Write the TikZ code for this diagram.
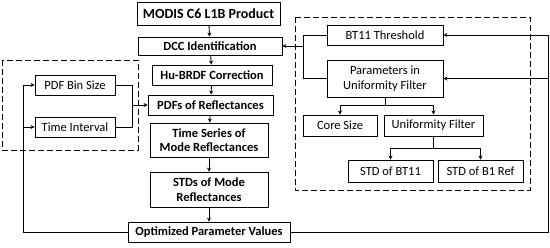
\documentclass[tikz,border=0pt]{standalone}
\usepackage{fontspec}
\setmainfont{Carlito}
\usetikzlibrary{arrows.meta,calc}
\begin{document}
\begin{tikzpicture}[x=1pt,y=-1pt,
  box/.style={draw,line width=0.9pt,inner sep=0pt,align=center,font=\fontsize{12.5}{14.5}\selectfont},
  bbox/.style={box,font=\fontsize{12.5}{14.5}\selectfont\bfseries},
  arr/.style={-{Stealth[length=4pt,width=4pt]},line width=0.9pt},
  ln/.style={line width=0.9pt},
  dbox/.style={draw,line width=0.9pt,dash pattern=on 6pt off 3pt}]
\useasboundingbox (0,0) rectangle (550,247);
% dashed groups
\draw[dbox] (2,60) rectangle (138,150);
\draw[dbox] (295,17) rectangle (530,190);
% main column
\node[bbox,minimum width=143pt,minimum height=23pt,font=\fontsize{14}{16}\selectfont\bfseries] (modis) at (208.5,13.5) {MODIS C6 L1B Product};
\node[bbox,minimum width=144pt,minimum height=18pt] (dcc) at (210,46) {DCC Identification};
\node[bbox,minimum width=120pt,minimum height=20pt] (hu) at (212,75) {Hu-BRDF Correction};
\node[bbox,minimum width=125pt,minimum height=20pt] (pdfs) at (210.5,105) {PDFs of Reflectances};
\node[bbox,minimum width=118pt,minimum height=34pt] (ts) at (209,140) {Time Series of\\Mode Reflectances};
\node[bbox,minimum width=118pt,minimum height=35pt] (stds) at (209,189.5) {STDs of Mode\\Reflectances};
\node[bbox,minimum width=162pt,minimum height=20pt] (opt) at (209,232) {Optimized Parameter Values};
% left group
\node[box,minimum width=80pt,minimum height=20pt] (bin) at (75,85) {PDF Bin Size};
\node[box,minimum width=80pt,minimum height=20pt] (ti) at (75,127) {Time Interval};
% right group
\node[box,minimum width=116pt,minimum height=20pt] (bt) at (385,35) {BT11 Threshold};
\node[box,minimum width=116pt,minimum height=37pt] (par) at (385,78.5) {Parameters in\\Uniformity Filter};
\node[box,minimum width=74pt,minimum height=21pt] (core) at (340,125.5) {Core Size};
\node[box,minimum width=99pt,minimum height=21pt] (uf) at (433.5,125.5) {Uniformity Filter};
\node[box,minimum width=85pt,minimum height=22pt] (sbt) at (390.5,171) {STD of BT11};
\node[box,minimum width=85pt,minimum height=22pt] (sb1) at (480.5,171) {STD of B1 Ref};
% coordinates
\coordinate (lx) at (23,232);
\coordinate (lbin) at (23,85);
\coordinate (lti) at (23,127);
\coordinate (jb) at (132,85);
\coordinate (jt) at (132,127);
\coordinate (jm) at (132,105);
\coordinate (rx) at (548,232);
\coordinate (rbt) at (548,35);
\coordinate (rpar) at (548,78.5);
\coordinate (ct) at (303,35);
\coordinate (cb) at (303,78.5);
\coordinate (cm) at (303,46);
\coordinate (p1) at (385,105);
\coordinate (p1l) at (340,105);
\coordinate (p1r) at (433.5,105);
\coordinate (u1) at (433.5,148);
\coordinate (u1l) at (390.5,148);
\coordinate (u1r) at (480.5,148);
% main flow
\draw[arr] (modis) -- (dcc);
\draw[arr] (dcc) -- (hu);
\draw[arr] (hu) -- (pdfs);
\draw[arr] (pdfs) -- (ts);
\draw[arr] (ts) -- (stds);
\draw[arr] (stds) -- (opt);
% feedback left
\draw[ln] (opt.west) -- (lx) -- (lbin);
\draw[arr] (lbin) -- (bin.west);
\draw[arr] (lti) -- (ti.west);
\draw[ln] (bin.east) -- (jb) -- (jt) -- (ti.east);
\draw[arr] (jm) -- (pdfs.west);
% feedback right
\draw[ln] (opt.east) -- (rx) -- (rbt);
\draw[arr] (rbt) -- (bt.east);
\draw[arr] (rpar) -- (par.east);
\draw[ln] (bt.west) -- (ct) -- (cb) -- (par.west);
\draw[arr] (cm) -- (dcc.east);
% tree
\draw[ln] (par.south) -- (p1);
\draw[ln] (p1l) -- (p1r);
\draw[arr] (p1l) -- (core.north);
\draw[arr] (p1r) -- (uf.north);
\draw[ln] (uf.south) -- (u1);
\draw[ln] (u1l) -- (u1r);
\draw[arr] (u1l) -- (sbt.north);
\draw[arr] (u1r) -- (sb1.north);
\end{tikzpicture}
\end{document}
